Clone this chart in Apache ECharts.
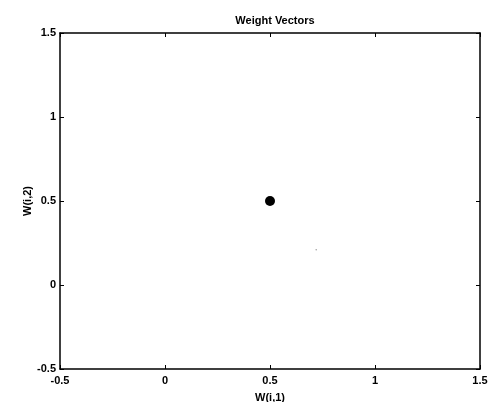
<!DOCTYPE html>
<html>
<head>
<meta charset="utf-8">
<script src="https://cdn.jsdelivr.net/npm/echarts@6/dist/echarts.min.js"></script>
<style>
  html, body { margin: 0; padding: 0; background: #fff; }
  #main { width: 497px; height: 402px; }
</style>
</head>
<body>
<div id="main"></div>
<script>
// weight vector points
var weightPoints = [[0.5, 0.5]];
var speckPoints = [[0.72, 0.21]];
var axisMin = -0.5;
var axisMax = 1.5;
var axisStep = 0.5;

var font = 'Liberation Sans, Arial, sans-serif';
var lineStyle = { color: '#000', width: 1.5 };

function tickFmt(v) {
    return String(Math.round(v * 10) / 10);
}

var chart = echarts.init(document.getElementById('main'));

chart.setOption({
    animation: false,
    backgroundColor: '#fff',
    title: {
        text: 'Weight Vectors',
        left: 270,
        top: 10,
        textAlign: 'center',
        textStyle: { fontFamily: font, fontSize: 11, fontWeight: 'bold', color: '#000' }
    },
    grid: { left: 60, right: 17, top: 33, bottom: 33, outerBoundsMode: 'none', containLabel: false },
    xAxis: [{
        type: 'value',
        min: axisMin, max: axisMax, interval: axisStep,
        name: 'W(i,1)',
        nameLocation: 'middle',
        nameGap: 23,
        nameMoveOverlap: false,
        nameTextStyle: { fontFamily: font, fontSize: 11, fontWeight: 'bold', color: '#000' },
        axisLine: { onZero: false, lineStyle: lineStyle },
        axisTick: { inside: true, length: 4, lineStyle: { color: '#000' } },
        axisLabel: { formatter: tickFmt, margin: 6, fontFamily: font, fontSize: 11, fontWeight: 'bold', color: '#000' },
        splitLine: { show: false }
    }, {
        type: 'value', position: 'top',
        min: axisMin, max: axisMax, interval: axisStep,
        axisLine: { onZero: false, lineStyle: lineStyle },
        axisTick: { inside: true, length: 4, lineStyle: { color: '#000' } },
        axisLabel: { show: false },
        splitLine: { show: false }
    }],
    yAxis: [{
        type: 'value',
        min: axisMin, max: axisMax, interval: axisStep,
        name: 'W(i,2)',
        nameLocation: 'middle',
        nameGap: 27,
        nameMoveOverlap: false,
        nameTextStyle: { fontFamily: font, fontSize: 11, fontWeight: 'bold', color: '#000' },
        axisLine: { onZero: false, lineStyle: lineStyle },
        axisTick: { inside: true, length: 4, lineStyle: { color: '#000' } },
        axisLabel: { formatter: tickFmt, margin: 4, fontFamily: font, fontSize: 11, fontWeight: 'bold', color: '#000' },
        splitLine: { show: false }
    }, {
        type: 'value', position: 'right',
        min: axisMin, max: axisMax, interval: axisStep,
        axisLine: { onZero: false, lineStyle: lineStyle },
        axisTick: { inside: true, length: 4, lineStyle: { color: '#000' } },
        axisLabel: { show: false },
        splitLine: { show: false }
    }],
    series: [{
        type: 'scatter',
        data: weightPoints,
        symbol: 'circle',
        symbolSize: 10,
        itemStyle: { color: '#000', opacity: 1 }
    }, {
        type: 'scatter',
        data: speckPoints,
        symbol: 'circle',
        symbolSize: 1.5,
        itemStyle: { color: '#999', opacity: 1 }
    }]
});
</script>
</body>
</html>
